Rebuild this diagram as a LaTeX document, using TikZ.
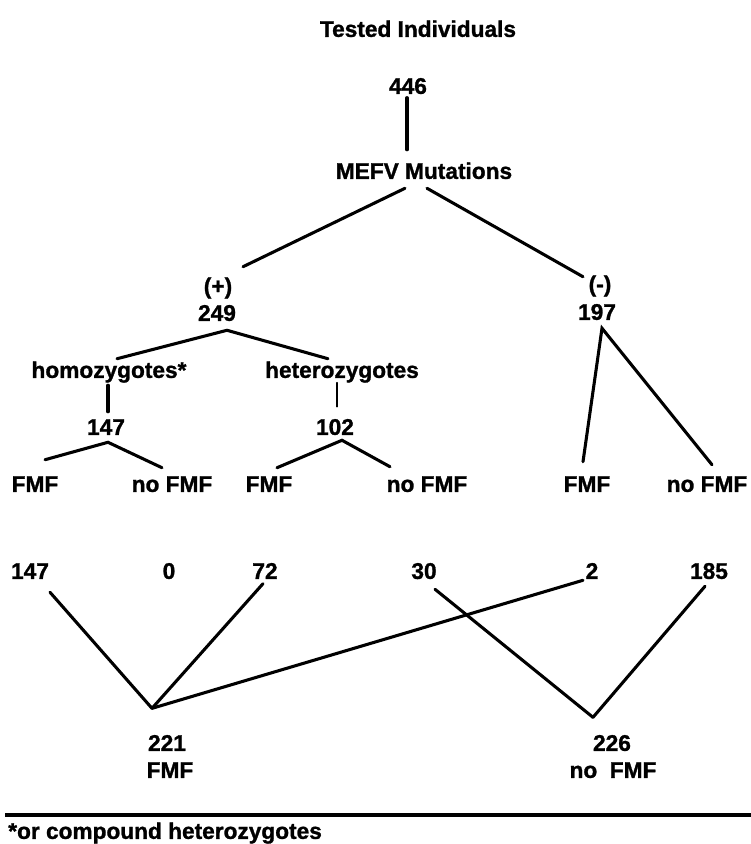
\documentclass[tikz,border=0pt]{standalone}
\usepackage{fontspec}
\setmainfont{Liberation Sans}[BoldFeatures={FakeBold=1.2}]
\begin{document}
\begin{tikzpicture}[x=0.75pt, y=-0.75pt,
  lbl/.style={inner sep=0pt, font=\fontsize{17pt}{19pt}\selectfont\bfseries,
    text height=12.2pt, text depth=3.4pt},
  link/.style={line width=2.3pt, line cap=round},
  thinlink/.style={line width=1.1pt, line cap=round}]
\useasboundingbox (0,0) rectangle (751,844);

% --- labels of the tree ---
\node[lbl] (tested) at (418,31)  {Tested Individuals};
\node[lbl] (n446)   at (408,88)  {446};
\node[lbl] (mefv)   at (424,173) {MEFV Mutations};
\node[lbl] (plus)   at (218,288) {(+)};
\node[lbl] (n249)   at (217,315) {249};
\node[lbl] (minus)  at (600,286) {(-)};
\node[lbl] (n197)   at (597,314) {197};
\node[lbl] (homo)   at (109,372) {homozygotes*};
\node[lbl] (hetero) at (342,372) {heterozygotes};
\node[lbl] (h147)   at (106,429) {147};
\node[lbl] (h102)   at (335,429) {102};
\node[lbl] (fmfa)   at (35,486)  {FMF};
\node[lbl] (nofmfa) at (172,486) {no FMF};
\node[lbl] (fmfb)   at (269,486) {FMF};
\node[lbl] (nofmfb) at (427,486) {no FMF};
\node[lbl] (fmfc)   at (587,486) {FMF};
\node[lbl] (nofmfc) at (707,486) {no FMF};

% --- counts ---
\node[lbl] (c147) at (30,573)  {147};
\node[lbl] (c0)   at (169,573) {0};
\node[lbl] (c72)  at (265,573) {72};
\node[lbl] (c30)  at (424,573) {30};
\node[lbl] (c2)   at (592,573) {2};
\node[lbl] (c185) at (709,573) {185};

% --- totals ---
\node[lbl] (t221)   at (167,745) {221};
\node[lbl] (tfmf)   at (170,772) {FMF};
\node[lbl] (t226)   at (612,745) {226};
\node[lbl] (tnofmf) at (613,772) {no\ \ FMF};

\node[lbl, anchor=west] (note) at (8,833) {*or compound heterozygotes};

% --- junctions of the totals ---
\coordinate (jfmf)   at ([shift={(-15,-26)}]t221.north);
\coordinate (jnofmf) at ([shift={(-19,-17)}]t226.north);

% --- branches ---
\draw[link] ([shift={(-1,-1)}]n446.south) -- ([shift={(-17,-12.6)}]mefv.north);
\draw[link] ([shift={(-19,4.6)}]mefv.south) -- ([shift={(25,-10.6)}]plus.north);
\draw[link] ([shift={(3,4.6)}]mefv.south) -- ([shift={(-17,1.4)}]minus.north);

\draw[link] ([shift={(8,-2.6)}]homo.north) -- ([shift={(10,4.6)}]n249.south)
            -- ([shift={(-14,-2.6)}]hetero.north);
\draw[link] ([shift={(-1,2.6)}]homo.south) -- ([shift={(2,-6.6)}]h147.north);
\draw[thinlink] ([shift={(-5,0)}]hetero.south) -- ([shift={(2,-11.6)}]h102.north);

\draw[link] ([shift={(10,-15.6)}]fmfa.north) -- ([shift={(2,2.6)}]h147.south)
            -- ([shift={(-10,-7.6)}]nofmfa.north);
\draw[link] ([shift={(8,-7.6)}]fmfb.north) -- ([shift={(7,0.6)}]h102.south)
            -- ([shift={(-37,-8.6)}]nofmfb.north);
\draw[link] ([shift={(-4,-13.6)}]fmfc.north) -- ([shift={(5,3.6)}]n197.south)
            -- ([shift={(5,-10.6)}]nofmfc.north);

% --- sums ---
\draw[link] ([shift={(20,8.6)}]c147.south) -- (jfmf);
\draw[link] ([shift={(-2,0)}]c72.south) -- (jfmf);
\draw[link] ([shift={(-9,-3.4)}]c2.south) -- (jfmf);
\draw[link] ([shift={(11,5.6)}]c30.south) -- (jnofmf);
\draw[link] ([shift={(-4,2.6)}]c185.south) -- (jnofmf);

% --- footnote rule ---
\draw[line width=3.4pt] (5,815) -- (751,815);
\end{tikzpicture}
\end{document}
